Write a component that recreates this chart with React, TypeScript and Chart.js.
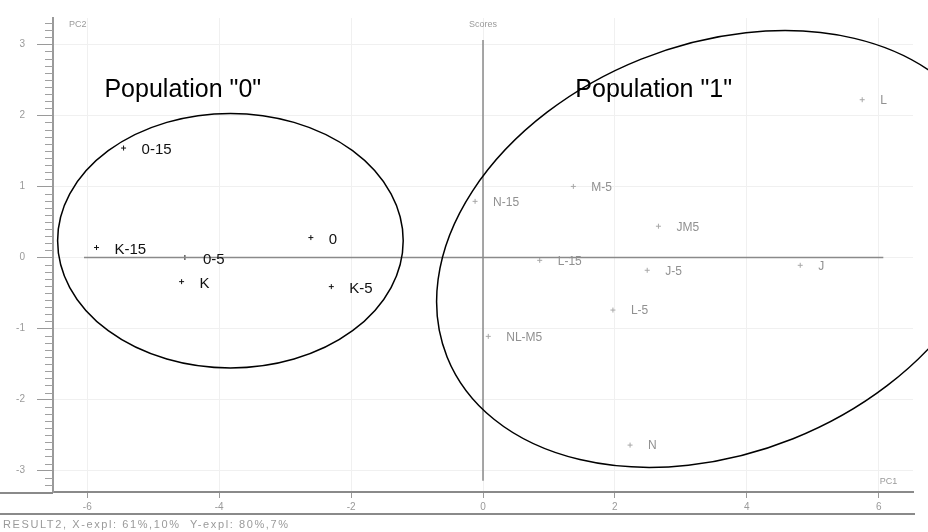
import React, { useEffect, useRef } from 'react';
import { Chart, registerables } from 'chart.js';

Chart.register(...registerables);

// ---- data ----
const pop0Labels = ['0-15', 'K-15', '0-5', 'K', '0', 'K-5'];
const pop0X = [-5.45, -5.86, -4.52, -4.57, -2.61, -2.30];
const pop0Y = [1.54, 0.14, 0.0, -0.34, 0.28, -0.41];

const pop1Labels = ['L', 'M-5', 'N-15', 'JM5', 'L-15', 'J-5', 'J', 'L-5', 'NL-M5', 'N'];
const pop1X = [5.75, 1.37, -0.12, 2.66, 0.86, 2.49, 4.81, 1.97, 0.08, 2.23];
const pop1Y = [2.22, 1.0, 0.79, 0.44, -0.04, -0.18, -0.11, -0.74, -1.11, -2.64];

const xTickValues = [-6, -4, -2, 0, 2, 4, 6];
const yTickValues = [-3, -2, -1, 0, 1, 2, 3];

const groupTitles = ['Population "0"', 'Population "1"'];
const groupTitleX = [-5.74, 1.4];
const groupTitleY = [2.36, 2.36];

// ellipses: centre (data units), semi-axes (in x-axis units), rotation (deg)
const ellipseCX = [-3.83, 3.55];
const ellipseCY = [0.236, 0.12];
const ellipseA = [2.62, 4.41];
const ellipseB = [1.93, 3.1];
const ellipseRot = [0, -21.8];

const hZeroX = [-6.05, 6.07];
const vZeroY = [-3.14, 3.06];

const footerText = 'RESULT2, X-expl: 61%,10%  Y-expl: 80%,7%';

const FONT = '"Liberation Sans", Arial, sans-serif';

const decorPlugin = {
  id: 'decor',
  afterDraw(chart: any) {
    const ctx = chart.ctx as CanvasRenderingContext2D;
    const xs = chart.scales.x;
    const ys = chart.scales.y;
    const area = chart.chartArea;
    ctx.save();

    // minor ticks on y axis
    ctx.strokeStyle = '#a0a0a0';
    ctx.lineWidth = 1;
    for (let k = Math.ceil(ys.min * 10); k <= Math.floor(ys.max * 10); k++) {
      if (k % 10 === 0) continue;
      const py = Math.round(ys.getPixelForValue(k / 10)) + 0.5;
      ctx.beginPath();
      ctx.moveTo(area.left - 8, py);
      ctx.lineTo(area.left, py);
      ctx.stroke();
    }

    // extended bottom frame lines
    ctx.strokeStyle = '#8a8a8a';
    ctx.lineWidth = 2;
    ctx.beginPath();
    ctx.moveTo(0, area.bottom + 1);
    ctx.lineTo(area.left, area.bottom + 1);
    ctx.stroke();
    ctx.beginPath();
    ctx.moveTo(0, 514);
    ctx.lineTo(area.right + 2, 514);
    ctx.stroke();

    // axis captions
    ctx.fillStyle = '#9a9a9a';
    ctx.font = '9px ' + FONT;
    ctx.textBaseline = 'middle';
    ctx.textAlign = 'left';
    ctx.fillText('PC2', area.left + 16, 25);
    ctx.textAlign = 'center';
    ctx.fillText('Scores', xs.getPixelForValue(0), 25);
    ctx.fillText('PC1', xs.getPixelForValue(6.15), area.bottom - 10);

    // footer
    ctx.textAlign = 'left';
    ctx.font = '11px ' + FONT;
    try { (ctx as any).letterSpacing = '1.6px'; } catch (e) {}
    ctx.fillText(footerText, 3, 525);
    try { (ctx as any).letterSpacing = '0px'; } catch (e) {}

    // point labels
    const m0 = chart.getDatasetMeta(2);
    ctx.fillStyle = '#111';
    ctx.font = '15px ' + FONT;
    ctx.textAlign = 'left';
    m0.data.forEach((el: any, i: number) => {
      ctx.fillText(pop0Labels[i], el.x + 18, el.y + 2);
    });
    const m1 = chart.getDatasetMeta(3);
    ctx.fillStyle = '#909090';
    ctx.font = '12px ' + FONT;
    m1.data.forEach((el: any, i: number) => {
      ctx.fillText(pop1Labels[i], el.x + 18, el.y + 1);
    });

    // group titles
    ctx.fillStyle = '#000';
    ctx.font = '25px ' + FONT;
    groupTitles.forEach((t, i) => {
      ctx.fillText(t, xs.getPixelForValue(groupTitleX[i]), ys.getPixelForValue(groupTitleY[i]));
    });

    // ellipses
    const ppx = Math.abs(xs.getPixelForValue(1) - xs.getPixelForValue(0));
    ctx.strokeStyle = '#000';
    ctx.lineWidth = 1.5;
    ellipseCX.forEach((cx, i) => {
      ctx.beginPath();
      ctx.ellipse(
        xs.getPixelForValue(cx),
        ys.getPixelForValue(ellipseCY[i]),
        ellipseA[i] * ppx,
        ellipseB[i] * ppx,
        (ellipseRot[i] * Math.PI) / 180,
        0,
        Math.PI * 2
      );
      ctx.stroke();
    });

    ctx.restore();
  },
};

export default function App() {
  const ref = useRef<HTMLCanvasElement | null>(null);

  useEffect(() => {
    document.body.style.margin = '0';
    const canvas = ref.current;
    if (!canvas) return;
    const chart = new Chart(canvas, {
      type: 'scatter',
      data: {
        datasets: [
          {
            label: 'x0',
            data: hZeroX.map((x) => ({ x, y: 0 })),
            showLine: true,
            borderColor: '#8a8a8a',
            borderWidth: 1.5,
            pointRadius: 0,
          },
          {
            label: 'y0',
            data: vZeroY.map((y) => ({ x: 0, y })),
            showLine: true,
            borderColor: '#8a8a8a',
            borderWidth: 1.5,
            pointRadius: 0,
          },
          {
            label: 'Population 0',
            data: pop0X.map((x, i) => ({ x, y: pop0Y[i] })),
            pointStyle: 'cross',
            pointRadius: 2.5,
            borderColor: '#111',
            backgroundColor: '#111',
            borderWidth: 1,
          },
          {
            label: 'Population 1',
            data: pop1X.map((x, i) => ({ x, y: pop1Y[i] })),
            pointStyle: 'cross',
            pointRadius: 2.5,
            borderColor: '#a8a8a8',
            backgroundColor: '#a8a8a8',
            borderWidth: 1,
          },
        ],
      } as any,
      options: {
        animation: false,
        responsive: false,
        maintainAspectRatio: false,
        layout: { padding: { top: 8, right: 15, left: 0, bottom: 0 } },
        plugins: { legend: { display: false }, tooltip: { enabled: false } },
        scales: {
          x: {
            type: 'linear',
            min: -6.52,
            max: 6.52,
            afterBuildTicks: (s: any) => {
              s.ticks = xTickValues.map((v) => ({ value: v }));
            },
            afterFit: (s: any) => {
              s.height = 40;
            },
            grid: { color: '#f0f0f0', tickColor: '#9a9a9a', tickLength: 6 },
            border: { color: '#8a8a8a', width: 2 },
            ticks: {
              color: '#9a9a9a',
              font: { size: 10, family: FONT },
              padding: 3,
              maxRotation: 0,
              autoSkip: false,
            },
          },
          y: {
            type: 'linear',
            min: -3.3,
            max: 3.37,
            afterBuildTicks: (s: any) => {
              s.ticks = yTickValues.map((v) => ({ value: v }));
            },
            afterFit: (s: any) => {
              s.width = 53;
            },
            grid: { color: '#f0f0f0', tickColor: '#9a9a9a', tickLength: 16 },
            border: { color: '#9a9a9a', width: 2 },
            ticks: {
              color: '#9a9a9a',
              font: { size: 10, family: FONT },
              padding: 12,
              autoSkip: false,
            },
          },
        },
      } as any,
      plugins: [decorPlugin],
    });
    return () => chart.destroy();
  }, []);

  return (
    <div style={{ width: 928, height: 532 }}>
      <canvas ref={ref} width={928} height={532} style={{ display: 'block' }} />
    </div>
  );
}
